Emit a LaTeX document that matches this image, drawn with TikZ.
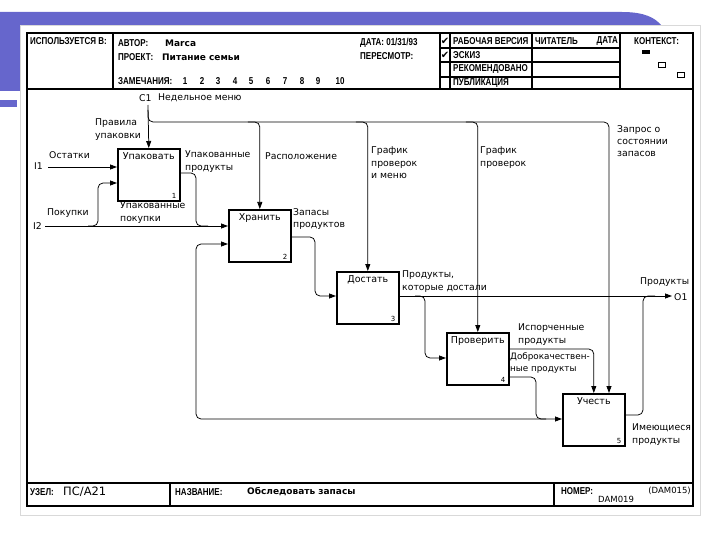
\documentclass[tikz,border=0pt]{standalone}
\usepackage{fontspec}
\setmainfont{DejaVu Sans}
\newfontfamily\hdr[FakeStretch=0.8]{Liberation Sans}
\newfontfamily\dv{DejaVu Sans}
\usetikzlibrary{arrows.meta,calc}
\definecolor{deco}{RGB}{102,102,204}
\tikzset{
  frm/.style={line width=1.1pt},
  bx/.style={draw, line width=1.6pt, minimum width=62pt, minimum height=52pt, anchor=north west, inner sep=0pt},
  con/.style={line width=0.75pt, rounded corners=5pt},
  arr/.style={-{Triangle[length=7pt,width=5pt]}},
  lab/.style={font=\fontsize{9.3}{12.2}\selectfont, inner sep=0pt, align=left},
  hd/.style={font=\hdr\bfseries\fontsize{10}{11}\selectfont, inner sep=0pt},
  btitle/.style={font=\fontsize{9.5}{10}\selectfont, inner sep=0pt, below=4.5pt},
  bnum/.style={font=\fontsize{7}{8}\selectfont, inner sep=0pt, anchor=south east}
}
\begin{document}
\begin{tikzpicture}[x=1pt,y=-1pt]
\useasboundingbox (0,0) rectangle (720,540);
% slide decoration
\fill[deco] (0,12) -- (622,12) .. controls (645,12) and (655,18) .. (661,25) -- (0,25) -- cycle;
\fill[deco] (0,12) rectangle (20,91);
\fill[deco] (0,100) rectangle (17,107);
\draw[gray!30, fill=white] (20,25) rectangle (700,515);
% form frame
\draw[frm] (27,33) rectangle (693,506);
\draw[frm] (27,89) -- (693,89);
\draw[frm] (27,483) -- (693,483);
\draw[frm] (113,33) -- (113,89);
\draw[frm] (440,33) -- (440,89);
\draw[frm] (450,33) -- (450,89);
\draw[frm] (532,33) -- (532,89);
\draw[frm] (620,33) -- (620,89);
\draw[frm] (440,48) -- (620,48);
\draw[frm] (440,62) -- (620,62);
\draw[frm] (440,77) -- (620,77);
\draw[frm] (170,483) -- (170,506);
\draw[frm] (554,483) -- (554,506);
% header texts
\node[hd, anchor=west] (hUsed) at (30,41) {ИСПОЛЬЗУЕТСЯ В:};
\node[hd, anchor=west] (hAuth) at (118,43) {АВТОР:};
\node[lab, anchor=west, font=\bfseries\fontsize{9}{10}\selectfont] (hAuthV) at (165,43) {Marca};
\node[hd, anchor=west] (hProj) at (118,57) {ПРОЕКТ:};
\node[lab, anchor=west, font=\bfseries\fontsize{9}{10}\selectfont] (hProjV) at (162,57) {Питание семьи};
\node[hd, anchor=west] (hNotes) at (118,81) {ЗАМЕЧАНИЯ:};
\foreach \n/\xx in {1/185,2/202,3/218,4/235,5/251,6/268,7/285,8/302,9/318,10/340}
  \node[hd] (hn\n) at (\xx,81) {\n};
\node[hd, anchor=west] (hDate) at (360,43) {ДАТА: 01/31/93};
\node[hd, anchor=west] (hRev) at (360,56) {ПЕРЕСМОТР:};
\node[inner sep=0pt, font=\dv\fontsize{10}{10}\selectfont] (chk1) at (445,41) {✔};
\node[inner sep=0pt, font=\dv\fontsize{10}{10}\selectfont] (chk2) at (445,55) {✔};
\node[hd, anchor=west] (sWork) at (453,41) {РАБОЧАЯ ВЕРСИЯ};
\node[hd, anchor=west] (sDraft) at (453,55) {ЭСКИЗ};
\node[hd, anchor=west] (sRec) at (453,69.5) {РЕКОМЕНДОВАНО};
\node[hd, anchor=west] (sPub) at (453,83) {ПУБЛИКАЦИЯ};
\node[hd, anchor=west] (hReader) at (535,41) {ЧИТАТЕЛЬ};
\node[hd, anchor=east] (hRDate) at (618,41) {ДАТА};
\node[hd, anchor=west] (hCtx) at (634,41) {КОНТЕКСТ:};
\fill (642,50) rectangle (650,54);
\draw[line width=0.6pt] (658,62) rectangle (665,67);
\draw[line width=0.6pt] (677,72) rectangle (684,77);
% footer texts
\node[hd, anchor=west] (fNode) at (30,492) {УЗЕЛ:};
\node[lab, anchor=west, font=\fontsize{11.5}{12}\selectfont] (fNodeV) at (63,492) {ПС/А21};
\node[hd, anchor=west] (fTitle) at (175,492) {НАЗВАНИЕ:};
\node[lab, anchor=west, font=\bfseries\fontsize{9}{10}\selectfont] (fTitleV) at (247,492) {Обследовать запасы};
\node[hd, anchor=west] (fNum) at (561,491) {НОМЕР:};
\node[lab, anchor=west, font=\fontsize{8.5}{10}\selectfont] (fNumV) at (598,499) {DAM019};
\node[lab, anchor=east, font=\fontsize{8.5}{10}\selectfont] (fNumP) at (691,491) {(DAM015)};
% boxes
\node[bx] (b1) at (117,148) {};
\node[bx] (b2) at (228,209) {};
\node[bx] (b3) at (336,271) {};
\node[bx] (b4) at (446,332) {};
\node[bx] (b5) at (562,393) {};
\node[btitle] (t1) at (b1.north) {Упаковать};
\node[btitle] (t2) at (b2.north) {Хранить};
\node[btitle] (t3) at (b3.north) {Достать};
\node[btitle] (t4) at (b4.north) {Проверить};
\node[btitle] (t5) at (b5.north) {Учесть};
\node[bnum] (n1) at ([xshift=-4pt,yshift=3pt]b1.south east) {1};
\node[bnum] (n2) at ([xshift=-4pt,yshift=3pt]b2.south east) {2};
\node[bnum] (n3) at ([xshift=-4pt,yshift=3pt]b3.south east) {3};
\node[bnum] (n4) at ([xshift=-4pt,yshift=3pt]b4.south east) {4};
\node[bnum] (n5) at ([xshift=-4pt,yshift=3pt]b5.south east) {5};
% helper coordinates
\coordinate (c1) at (148,105);
\coordinate (hz) at (0,122);
\coordinate (i1) at (48,167);
\coordinate (i2) at (45,226);
\coordinate (y183) at (0,183);
\coordinate (y173) at (0,173);
\coordinate (y237) at (0,237);
\coordinate (y244) at (0,244);
\coordinate (y296) at (0,296);
\coordinate (y349) at (0,349);
\coordinate (y358) at (0,358);
\coordinate (y377) at (0,377);
\coordinate (y415) at (0,415);
\coordinate (y419) at (0,419);
\coordinate (o1) at (672,296);
\coordinate (x609) at (609,0);
% controls
\draw[con,arr] (c1) -- (b1.north);
\draw[con,arr] (148,110) |- (x609 |- hz) -- (x609 |- b5.north);
\draw[con,arr] ([xshift=-12pt]b2.north |- hz) -- (b2.north |- hz) -- (b2.north);
\draw[con,arr] ([xshift=-12pt]b3.north |- hz) -- (b3.north |- hz) -- (b3.north);
\draw[con,arr] ([xshift=-12pt]b4.north |- hz) -- (b4.north |- hz) -- (b4.north);
% inputs
\draw[con,arr] (i1) -- (i1 -| b1.west);
\draw[con,arr] (i2) -- (i2 -| b2.west);
\draw[con,arr] (88,226) -- (98,226) -- (98,183) -- (b1.west |- y183);
% outputs / links
\draw[con] (b1.east |- y173) -- (196,173) -- (196,226) -- (208,226);
\draw[con,arr] (b2.east |- y237) -- (315,237) -- (315,296) -- (b3.west |- y296);
\draw[con,arr] (b3.east |- y296) -- (o1);
\draw[con,arr] (415,296) -- (425,296) -- (425,358) -- (b4.west |- y358);
\draw[con,arr] (b4.east |- y349) -- (b5.north |- y349) -- (b5.north);
\draw[con,arr] (b4.east |- y377) -- (536,377) -- (536,419) -- (b5.west |- y419);
\draw[con,arr] (546,419) -- (196,419) -- (196,244) -- (b2.west |- y244);
\draw[con] (b5.east |- y415) -- (643,415) -- (643,296) -- (655,296);
% labels
\node[lab, anchor=west] (lc1) at (139,98) {C1};
\node[lab, anchor=west] (lc1t) at (158,98) {Недельное меню};
\node[lab, anchor=north west] (lrule) at (95,119) {Правила\\упаковки};
\node[lab, anchor=west] (li1t) at (49,155) {Остатки};
\node[lab, anchor=west] (li1) at (34,166) {I1};
\node[lab, anchor=west] (li2t) at (47,213) {Покупки};
\node[lab, anchor=west] (li2) at (33,226) {I2};
\node[lab, anchor=north west] (lpp) at (185,151) {Упакованные\\продукты};
\node[lab, anchor=north west] (lpb) at (120,202) {Упакованные\\покупки};
\node[lab, anchor=west] (lloc) at (265,156) {Расположение};
\node[lab, anchor=north west] (lstock) at (293,208) {Запасы\\продуктов};
\node[lab, anchor=north west] (lsch1) at (371,147) {График\\проверок\\и меню};
\node[lab, anchor=north west] (lsch2) at (480,147) {График\\проверок};
\node[lab, anchor=north west] (lreq) at (617,125) {Запрос о\\состоянии\\запасов};
\node[lab, anchor=north west] (lgot) at (402,271) {Продукты,\\которые достали};
\node[lab, anchor=west] (lo1t) at (640,282) {Продукты};
\node[lab, anchor=west] (lo1) at (674,297) {O1};
\node[lab, anchor=north west] (lbad) at (518,324) {Испорченные\\продукты};
\node[lab, anchor=north west, font=\fontsize{8.8}{12.2}\selectfont] (lgood) at (510,352) {Доброкачествен-\\ные продукты};
\node[lab, anchor=north west] (lhave) at (632,424) {Имеющиеся\\продукты};
\end{tikzpicture}
\end{document}
